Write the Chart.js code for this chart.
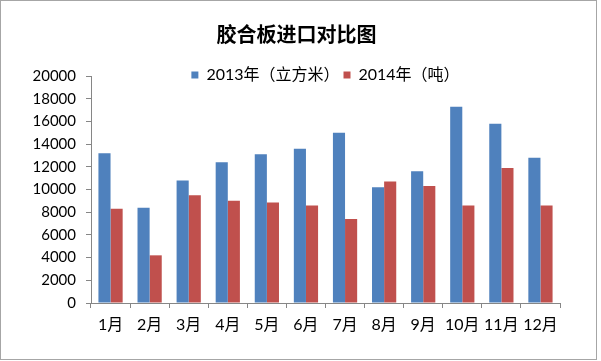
<!DOCTYPE html>
<html>
<head>
<meta charset="utf-8">
<script src="https://cdn.jsdelivr.net/npm/chart.js@4"></script>
<style>
  html, body { margin: 0; padding: 0; background: #fff; }
  #wrap { width: 595px; height: 358px; border: 1px solid #a6a6a6; }
  canvas { display: block; }
</style>
</head>
<body>
<div id="wrap"><canvas id="chart" width="595" height="358"></canvas></div>
<script>
// 胶合板进口对比图 - monthly plywood imports, 2013 vs 2014
const months = ['1月', '2月', '3月', '4月', '5月', '6月', '7月', '8月', '9月', '10月', '11月', '12月'];
const imports2013 = [13200, 8400, 10800, 12400, 13100, 13600, 15000, 10200, 11600, 17300, 15800, 12800];
const imports2014 = [8300, 4200, 9500, 9000, 8850, 8600, 7400, 10700, 10300, 8600, 11900, 8600];
const seriesNames = ['2013年（立方米）', '2014年（吨）'];

const fontFamily = "Lato, 'Noto Sans CJK SC', sans-serif";
const axisColor = '#868686';

// in the original the legend sits level with the top tick, centred over the plot box
const legendMove = {
    id: 'legendMove',
    beforeDraw(chart) {
        if (chart._legendMoved) return;
        chart._legendMoved = true;
        const l = chart.legend;
        const area = chart.chartArea;
        const dy = (area.top + 2) - (l.top + l.height / 2);
        const dx = (area.left + area.right) / 2 - (l.left + l.right) / 2;
        l.top += dy; l.bottom += dy;
        l.left += dx; l.right += dx;
    }
};

const ctx = document.querySelector('#chart').getContext('2d');
new Chart(ctx, {
    type: 'bar',
    data: {
        labels: months,
        datasets: [
            {
                label: seriesNames[0],
                data: imports2013,
                backgroundColor: '#4f81bd'
            },
            {
                label: seriesNames[1],
                data: imports2014,
                backgroundColor: '#c0504d'
            }
        ]
    },
    plugins: [legendMove],
    options: {
        responsive: false,
        animation: false,
        categoryPercentage: 0.62,
        barPercentage: 1,
        layout: { padding: { top: 7, left: 32, right: 36, bottom: 16 } },
        plugins: {
            title: {
                display: true,
                text: '胶合板进口对比图',
                color: '#000',
                font: { family: "'Noto Sans CJK SC', sans-serif", size: 20, weight: 'bold' },
                padding: { top: 14, bottom: 0 }
            },
            legend: {
                display: true,
                position: 'top',
                labels: {
                    color: '#000',
                    font: { family: fontFamily, size: 16 },
                    boxWidth: 7,
                    boxHeight: 7,
                    padding: 4
                }
            },
            tooltip: { enabled: false }
        },
        scales: {
            x: {
                afterFit: scale => { scale.height = 40; },
                grid: {
                    drawOnChartArea: false,
                    drawTicks: true,
                    tickLength: 5,
                    color: axisColor
                },
                border: { display: true, color: axisColor },
                ticks: {
                    color: '#000',
                    font: { family: fontFamily, size: 16 },
                    padding: 7,
                    maxRotation: 0,
                    autoSkip: false
                }
            },
            y: {
                min: 0,
                max: 20000,
                afterFit: scale => { scale.width = 58; },
                grid: {
                    drawOnChartArea: false,
                    drawTicks: true,
                    tickLength: 5,
                    color: axisColor
                },
                border: { display: true, color: axisColor },
                ticks: {
                    stepSize: 2000,
                    autoSkip: false,
                    color: '#000',
                    font: { family: fontFamily, size: 15 },
                    padding: 10,
                    callback: value => String(value)
                }
            }
        }
    }
});
</script>
</body>
</html>
